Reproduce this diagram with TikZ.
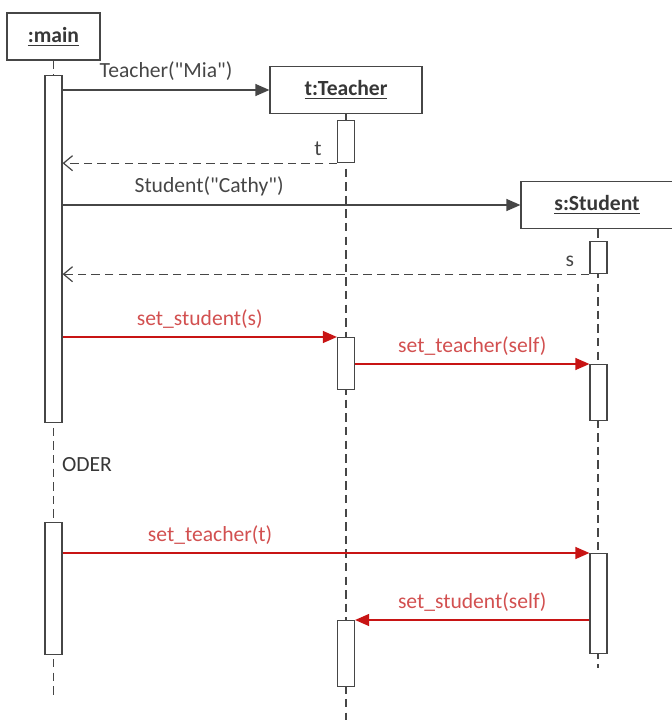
\documentclass[tikz,border=0pt]{standalone}
\usepackage{fontspec}
\setmainfont{Carlito}
\usepackage{xcolor}
\usepackage{tikz}
\usetikzlibrary{arrows.meta}

\definecolor{lineg}{RGB}{70,70,70}
\definecolor{textg}{RGB}{55,55,55}
\definecolor{msgred}{RGB}{200,20,20}
\definecolor{msgtext}{RGB}{210,80,80}

\begin{document}
\begin{tikzpicture}[
    x=0.5pt, y=-0.5pt,
    font=\fontsize{10.8}{13}\selectfont,
    text=textg,
    head/.style={
        draw=lineg,
        line width=0.6pt,
        fill=white,
        minimum height=23.5pt,
        inner sep=0pt,
        font=\fontsize{10.8}{13}\selectfont\bfseries
    },
    act/.style={
        draw=lineg,
        line width=0.6pt,
        fill=white,
        minimum width=8.5pt,
        inner sep=0pt,
        anchor=north
    },
    life/.style={draw=lineg, line width=0.6pt, dash pattern=on 4.2pt off 2.6pt},
    call/.style={lineg, line width=0.6pt, -{Triangle[length=7pt,width=6pt]}},
    answer/.style={lineg, line width=0.6pt, dash pattern=on 4.2pt off 2.6pt,
        -{Straight Barb[length=4.5pt,width=7.5pt,line width=0.6pt]}},
    redcall/.style={msgred, line width=0.6pt, -{Triangle[length=7pt,width=6pt]}},
    redlbl/.style={text=msgtext, above=0.5pt},
    retlbl/.style={anchor=south east, xshift=-4pt, yshift=0pt}
]
\useasboundingbox (0,0) rectangle (671,724);

% Objects
\node[head, minimum width=46.5pt] (main) at (53.5,36.5) {\underline{:main}};
\node[head, minimum width=76pt] (teacher) at (346,90) {\underline{t:Teacher}};
\node[head, minimum width=76pt] (student) at (597,205) {\underline{s:Student}};

% Lifelines
\coordinate (mainEnd) at (53.5,697);
\coordinate (teacherEnd) at (346,720);
\coordinate (studentEnd) at (598,668);
\draw[life] (main.south) -- (mainEnd);
\draw[life] (teacher.south) -- (teacherEnd);
\draw[life] (student.south -| studentEnd) -- (studentEnd);

% Activations
\node[act, minimum height=173.5pt] (mainA) at (53.5,75) {};
\node[act, minimum height=66pt] (mainB) at (53.5,522) {};
\node[act, minimum height=21pt] (tA1) at (346,120) {};
\node[act, minimum height=26pt] (tA2) at (346,337) {};
\node[act, minimum height=33pt] (tA3) at (346,620) {};
\node[act, minimum height=16pt] (sA1) at (598.5,241) {};
\node[act, minimum height=28pt] (sA2) at (598.5,364) {};
\node[act, minimum height=50pt] (sA3) at (598.5,553) {};

% Messages
\draw[call] (mainA.east |- teacher.west) -- node[above=1pt]{Teacher(\textquotedbl Mia\textquotedbl)} (teacher.west);
\draw[answer] (tA1.south west) -- node[pos=0, retlbl]{t} (mainA.east |- tA1.south);
\draw[call] (mainA.east |- student.west) -- node[pos=0.32, above=1pt]{Student(\textquotedbl Cathy\textquotedbl)} (student.west);
\draw[answer] (sA1.south west) -- node[pos=0, retlbl]{s} (mainA.east |- sA1.south);

\draw[redcall] (mainA.east |- tA2.north) -- node[redlbl]{set\_student(s)} (tA2.north west);
\draw[redcall] (tA2.east |- sA2.north) -- node[redlbl]{set\_teacher(self)} (sA2.north west);

\node[anchor=west] (oder) at (55,465) {ODER};

\draw[redcall] (mainB.east |- sA3.north) -- node[redlbl, pos=0.28]{set\_teacher(t)} (sA3.north west);
\draw[redcall] (sA3.west |- tA3.north) -- node[redlbl, pos=0.5]{set\_student(self)} (tA3.north east);

\end{tikzpicture}
\end{document}
